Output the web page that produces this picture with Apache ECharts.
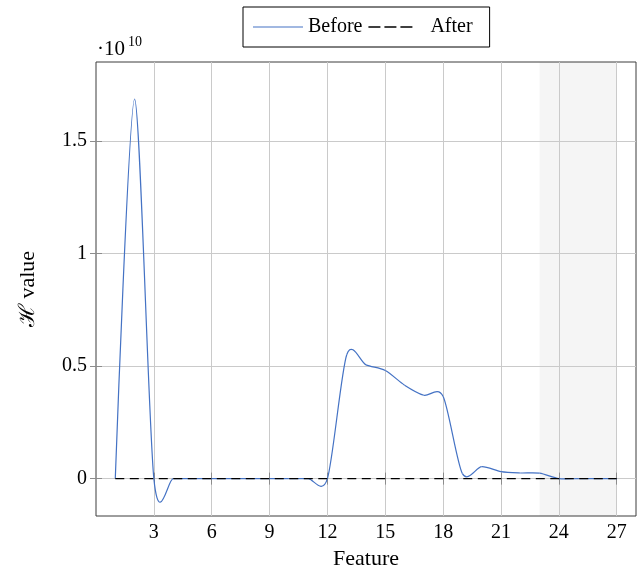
<!DOCTYPE html>
<html>
<head>
<meta charset="utf-8">
<title>Feature H value</title>
<script src="https://cdn.jsdelivr.net/npm/echarts@6/dist/echarts.min.js"></script>
<style>
  html, body { margin: 0; padding: 0; background: #fff; }
  #chart { width: 638px; height: 568px; }
</style>
</head>
<body>
<div id="chart"></div>
<script>
// Feature index on the x axis
const features = [1, 2, 3, 4, 5, 6, 7, 8, 9, 10, 11, 12, 13, 14, 15, 16, 17, 18, 19, 20, 21, 22, 23, 24, 25, 26, 27];
// H value per feature, before and after
const beforeValues = [0, 1.685e10, 0, 0, 0, 0, 0, 0, 0, 0, 0, 0, 0.55e10, 0.505e10, 0.48e10, 0.415e10, 0.37e10, 0.365e10, 0.022e10, 0.053e10, 0.031e10, 0.025e10, 0.024e10, 0, 0, 0, 0];
const afterValues = [0, 0, 0, 0, 0, 0, 0, 0, 0, 0, 0, 0, 0, 0, 0, 0, 0, 0, 0, 0, 0, 0, 0, 0, 0, 0, 0];
// Highlighted feature range
const shadedRange = [23, 27];
// Axis ticks
const xTicks = [3, 6, 9, 12, 15, 18, 21, 24, 27];
const yTicks = [0, 0.5e10, 1e10, 1.5e10];
const xRange = [0, 28];
const yRange = [-0.166e10, 1.85e10];

const BLUE = '#4472c4';
const GRID_COLOR = '#cacaca';
const TICK_COLOR = '#8c8c8c';
const SERIF = "'Liberation Serif', 'DejaVu Serif', serif";
const TENSION = 0.14; // smooth-curve control point factor

const beforeData = features.map((f, i) => [f, beforeValues[i]]);
const afterData = features.map((f, i) => [f, afterValues[i]]);

// Smooth curve segment between consecutive points, control points taken
// along the chord joining each point's neighbours.
function renderSmoothSegment(params, api) {
  const i = params.dataIndex;
  const n = beforeData.length;
  if (i >= n - 1) return null;
  const p = j => api.coord(beforeData[Math.max(0, Math.min(n - 1, j))]);
  const p0 = p(i), p1 = p(i + 1);
  let c1, c2;
  if (i === 0) {
    c1 = p0;
  } else {
    const a = p(i - 1);
    c1 = [p0[0] + TENSION * (p1[0] - a[0]), p0[1] + TENSION * (p1[1] - a[1])];
  }
  if (i + 1 === n - 1) {
    c2 = p1;
  } else {
    const b = p(i + 2);
    c2 = [p1[0] - TENSION * (b[0] - p0[0]), p1[1] - TENSION * (b[1] - p0[1])];
  }
  return {
    type: 'bezierCurve',
    shape: { x1: p0[0], y1: p0[1], x2: p1[0], y2: p1[1], cpx1: c1[0], cpy1: c1[1], cpx2: c2[0], cpy2: c2[1] },
    style: { stroke: BLUE, lineWidth: 1.2, fill: null }
  };
}

function renderShade(params, api) {
  const a = api.coord([shadedRange[0], 0]);
  const b = api.coord([shadedRange[1], 0]);
  const cs = params.coordSys;
  return {
    type: 'rect',
    shape: { x: a[0], y: cs.y, width: b[0] - a[0], height: cs.height },
    style: { fill: '#f5f5f5' }
  };
}

const chart = echarts.init(document.getElementById('chart'), null, { renderer: 'canvas' });

const tickStyle = { show: true, inside: true, length: 6, lineStyle: { color: TICK_COLOR, width: 1 } };

chart.setOption({
  animation: false,
  backgroundColor: '#fff',
  grid: {
    left: 96, right: 2, top: 62, bottom: 52,
    outerBoundsMode: 'none',
    containLabel: false,
    show: true, borderColor: '#3c3c3c', borderWidth: 1, backgroundColor: 'transparent'
  },
  legend: {
    top: 7, left: 243,
    orient: 'horizontal',
    itemWidth: 50, itemHeight: 14, itemGap: 6,
    padding: [9, 17, 9, 10],
    borderColor: '#000', borderWidth: 1,
    textStyle: {
      fontFamily: SERIF, fontSize: 20, color: '#000', lineHeight: 22,
      rich: { gap: { width: 7 } }
    },
    formatter: name => (name === 'After' ? '{gap|}' + name : name),
    data: [
      { name: 'Before', icon: 'path://M0,0H50V1.2H0Z', itemStyle: { color: BLUE } },
      {
        name: 'After',
        icon: 'path://M0,0H12V1.4H0Z M16,0H28V1.4H16Z M32,0H44V1.4H32Z M49.9,0.6H50V0.8H49.9Z',
        itemStyle: { color: '#000' }
      }
    ]
  },
  xAxis: [
    {
      type: 'value', min: xRange[0], max: xRange[1],
      name: 'Feature', nameLocation: 'middle', nameGap: 23,
      nameTextStyle: { fontFamily: SERIF, fontSize: 22, color: '#000' },
      axisLine: { show: false },
      axisTick: Object.assign({ customValues: xTicks }, tickStyle),
      axisLabel: { customValues: xTicks, margin: 7, fontFamily: SERIF, fontSize: 20, color: '#000' },
      splitLine: { show: true, lineStyle: { color: GRID_COLOR, width: 1 } }
    },
    {
      type: 'value', min: xRange[0], max: xRange[1], position: 'top',
      axisLine: { show: false },
      axisTick: Object.assign({ customValues: xTicks }, tickStyle),
      axisLabel: { show: false },
      splitLine: { show: false }
    }
  ],
  yAxis: [
    {
      type: 'value', min: yRange[0], max: yRange[1],
      name: 'ℋ value', nameLocation: 'middle', nameGap: 57, nameRotate: 90,
      nameTextStyle: { fontFamily: SERIF, fontSize: 22, color: '#000' },
      axisLine: { show: false },
      axisTick: Object.assign({ customValues: yTicks }, tickStyle),
      axisLabel: {
        customValues: yTicks, margin: 9, fontFamily: SERIF, fontSize: 20, color: '#000',
        formatter: v => String(Math.round(v / 1e9) / 10)
      },
      splitLine: { show: true, lineStyle: { color: GRID_COLOR, width: 1 } }
    },
    {
      type: 'value', min: yRange[0], max: yRange[1], position: 'right',
      axisLine: { show: false },
      axisTick: Object.assign({ customValues: yTicks }, tickStyle),
      axisLabel: { show: false },
      splitLine: { show: false }
    }
  ],
  graphic: [
    { type: 'text', left: 97, top: 39, style: { text: '·10', font: "21px 'Liberation Serif', serif", fill: '#000' } },
    { type: 'text', left: 128, top: 35, style: { text: '10', font: "14px 'Liberation Serif', serif", fill: '#000' } }
  ],
  series: [
    {
      name: 'Shaded',
      type: 'custom',
      z: -1,
      silent: true,
      data: [shadedRange],
      encode: { x: [0, 1] },
      renderItem: renderShade
    },
    {
      name: 'Before',
      type: 'custom',
      itemStyle: { color: BLUE },
      data: beforeData,
      encode: { x: 0, y: 1 },
      renderItem: renderSmoothSegment
    },
    {
      name: 'After',
      type: 'line',
      data: afterData,
      symbol: 'none',
      itemStyle: { color: '#000' },
      lineStyle: { color: '#000', width: 1.3, type: [9, 5.5] },
      z: 3
    }
  ]
});
</script>
</body>
</html>
